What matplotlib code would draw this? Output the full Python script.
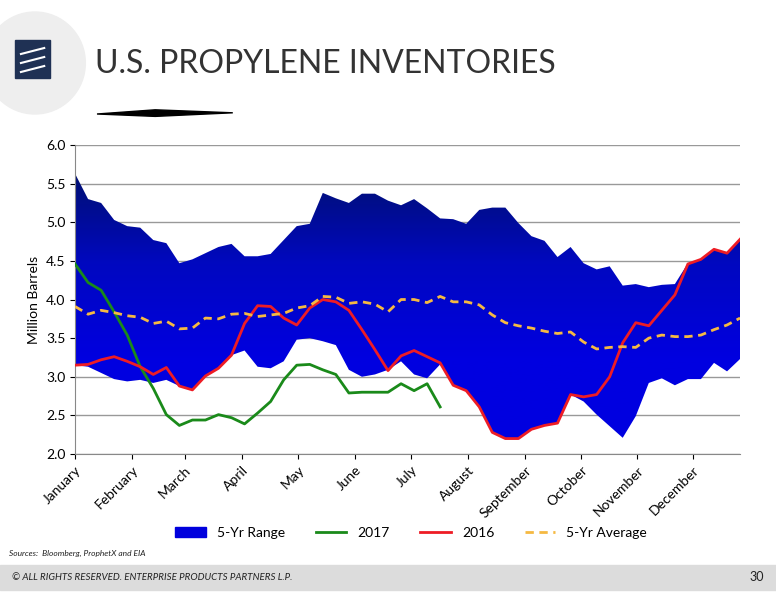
import numpy as np
import matplotlib.pyplot as plt
from matplotlib.patches import Rectangle, Ellipse, Polygon
from matplotlib.lines import Line2D
from matplotlib.colors import LinearSegmentedColormap

plt.rcParams['font.family'] = ['Lato', 'DejaVu Sans']

months = ["January", "February", "March", "April", "May", "June", "July",
          "August", "September", "October", "November", "December"]
month_pos = [0, 4.4, 8.4, 12.8, 17.1, 21.5, 25.8, 30.1, 34.5, 38.8, 43.1, 47.4]

rng_hi = [5.63, 5.30, 5.25, 5.03, 4.95, 4.93, 4.77, 4.73, 4.47, 4.52, 4.60, 4.68, 4.72,
          4.56, 4.56, 4.59, 4.77, 4.95, 4.98, 5.38, 5.31, 5.25, 5.37, 5.37, 5.28, 5.22,
          5.30, 5.18, 5.05, 5.04, 4.98, 5.16, 5.19, 5.19, 4.99, 4.82, 4.76, 4.55, 4.68,
          4.47, 4.39, 4.43, 4.18, 4.20, 4.16, 4.19, 4.20, 4.47, 4.51, 4.65, 4.60, 4.78]
rng_lo = [3.15, 3.13, 3.05, 2.97, 2.94, 2.96, 2.92, 2.96, 2.88, 2.83, 3.01, 3.11, 3.28,
          3.34, 3.13, 3.11, 3.20, 3.48, 3.50, 3.46, 3.41, 3.09, 3.00, 3.03, 3.09, 3.20,
          3.03, 2.98, 3.16, 2.89, 2.82, 2.61, 2.28, 2.20, 2.20, 2.32, 2.37, 2.40, 2.77,
          2.68, 2.51, 2.36, 2.21, 2.49, 2.92, 2.98, 2.89, 2.97, 2.97, 3.18, 3.07, 3.23]
avg5 = [3.91, 3.81, 3.86, 3.83, 3.79, 3.77, 3.69, 3.72, 3.62, 3.63, 3.76, 3.75, 3.81,
        3.82, 3.78, 3.80, 3.82, 3.89, 3.92, 4.04, 4.03, 3.95, 3.97, 3.94, 3.84, 4.00,
        4.00, 3.96, 4.04, 3.97, 3.97, 3.93, 3.80, 3.70, 3.66, 3.63, 3.59, 3.56, 3.58,
        3.45, 3.36, 3.38, 3.39, 3.38, 3.50, 3.54, 3.52, 3.52, 3.54, 3.61, 3.67, 3.76]
y2016 = [3.15, 3.16, 3.22, 3.26, 3.20, 3.13, 3.03, 3.12, 2.88, 2.83, 3.01, 3.11, 3.28,
         3.69, 3.92, 3.91, 3.76, 3.67, 3.89, 4.00, 3.97, 3.86, 3.61, 3.35, 3.08, 3.27,
         3.34, 3.26, 3.18, 2.89, 2.82, 2.61, 2.28, 2.20, 2.20, 2.32, 2.37, 2.40, 2.77,
         2.74, 2.77, 3.00, 3.44, 3.70, 3.66, 3.86, 4.06, 4.46, 4.52, 4.65, 4.60, 4.78]
y2017 = [4.46, 4.22, 4.12, 3.84, 3.54, 3.13, 2.85, 2.51, 2.37, 2.44, 2.44, 2.51, 2.47,
         2.39, 2.53, 2.68, 2.96, 3.15, 3.16, 3.09, 3.03, 2.79, 2.80, 2.80, 2.80, 2.91,
         2.82, 2.91, 2.61]

weeks = np.arange(len(rng_hi))

fig = plt.figure(figsize=(7.76, 6), dpi=100)

# slide chrome
fig.patches.append(Ellipse((0.045, 0.895), 0.13, 0.17, transform=fig.transFigure,
                           color='#eeeeee', zorder=0))
fig.patches.append(Rectangle((0.019, 0.87), 0.046, 0.063, transform=fig.transFigure,
                             color='#1f3154', zorder=1))
for yy in (0.915, 0.9, 0.885):
    fig.lines.append(Line2D([0.027, 0.057], [yy - 0.005, yy + 0.005], transform=fig.transFigure,
                            color='white', lw=1.5, zorder=2))
fig.text(0.123, 0.893, "U.S. PROPYLENE INVENTORIES", fontsize=23, color='#333333',
         va='center', ha='left')
fig.patches.append(Polygon([[0.125, 0.81], [0.2, 0.817], [0.3, 0.812], [0.2, 0.806]],
                           closed=True, transform=fig.transFigure, color='black'))
fig.patches.append(Rectangle((0, 0.017), 1, 0.042, transform=fig.transFigure,
                             color='#dcdcdc', zorder=0))
fig.text(0.015, 0.038, "© ALL RIGHTS RESERVED. ENTERPRISE PRODUCTS PARTNERS L.P.",
         fontsize=7, style='italic', va='center', color='#222222')
fig.text(0.985, 0.038, "30", fontsize=9, va='center', ha='right', color='#222222')
fig.text(0.012, 0.078, "Sources:  Bloomberg, ProphetX and EIA", fontsize=6,
         style='italic', va='center', color='#222222')

ax = fig.add_axes([0.0967, 0.2433, 0.857, 0.515])
ax.set_yticks(np.arange(2.0, 6.01, 0.5))
ax.set_yticklabels(["%.1f" % v for v in np.arange(2.0, 6.01, 0.5)], fontsize=10)
ax.yaxis.grid(True, color='#999999', lw=1)
ax.set_axisbelow(True)
for s in ('top', 'right'):
    ax.spines[s].set_visible(False)
ax.spines['left'].set_color('#888888')
ax.spines['bottom'].set_color('#888888')
ax.set_ylabel("Million Barrels", fontsize=10)
ax.set_xticks(month_pos)
ax.set_xticklabels(months, rotation=45, ha='right', rotation_mode='anchor', fontsize=10)

# 5-yr range with vertical gradient (navy at top, bright blue lower)
band = ax.fill_between(weeks, rng_lo, rng_hi, color='#0000dd', lw=0, label='5-Yr Range')
grad = np.linspace(0, 1, 256).reshape(-1, 1)
cmap = LinearSegmentedColormap.from_list('b', ['#0000e0', '#0000e0', '#0008c0', '#00106e'])
im = ax.imshow(grad, extent=[0, 51, 2.0, 5.7], aspect='auto', cmap=cmap, origin='lower',
               vmin=0, vmax=1, zorder=1.5)
im.set_clip_path(band.get_paths()[0], transform=ax.transData)
band.set_alpha(0)
ax.set_xlim(0, 51)
ax.set_ylim(2.0, 6.0)

ax.plot(np.arange(len(y2017)), y2017, color='#1a8a1a', lw=2, label='2017', zorder=3)
ax.plot(weeks, y2016, color='#ee1c25', lw=2, label='2016', zorder=3)
ax.plot(weeks, avg5, color='#f5b942', lw=2, ls=(0, (3, 2)), label='5-Yr Average', zorder=3)

h = [Rectangle((0, 0), 1, 1, color='#0000dd')] + ax.get_lines()
fig.legend(h, ['5-Yr Range', '2017', '2016', '5-Yr Average'], loc='center',
           bbox_to_anchor=(0.53, 0.112), ncol=4, frameon=False, fontsize=10,
           handlelength=2.2, columnspacing=2.2)

fig.savefig("out.png", dpi=100)
